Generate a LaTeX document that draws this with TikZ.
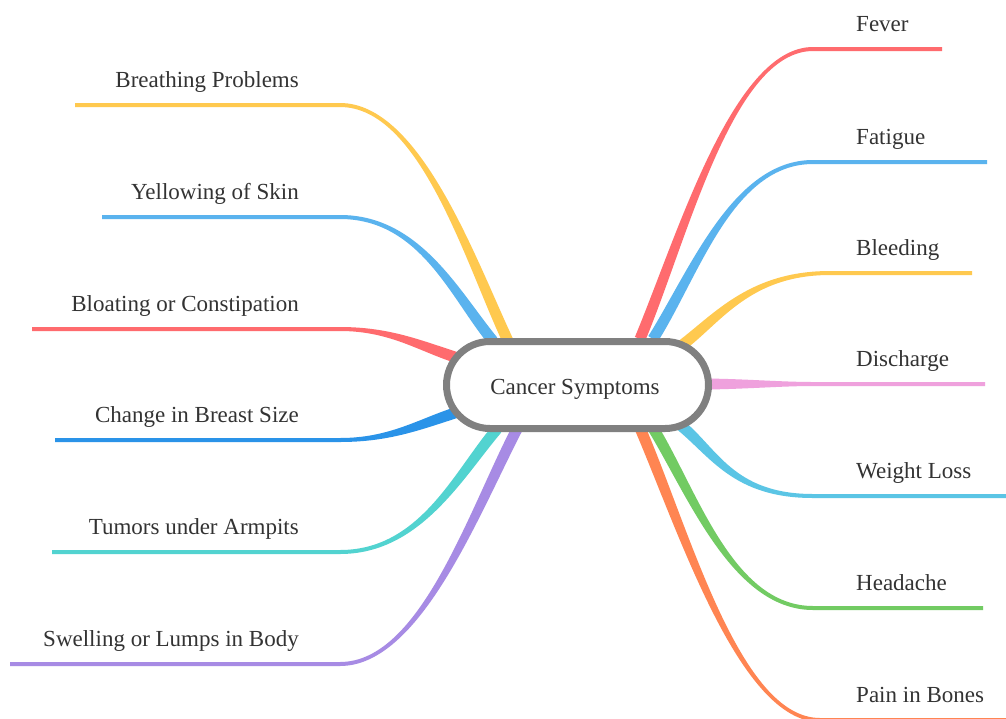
\documentclass[tikz,border=0pt]{standalone}
\usepackage{fontspec}
\setmainfont{Liberation Serif}
\newfontfamily\mmserif{Liberation Serif}
\usetikzlibrary{calc}

\definecolor{cRed}{HTML}{FF6B6E}
\definecolor{cBlue}{HTML}{5AB3EE}
\definecolor{cYellow}{HTML}{FFC94F}
\definecolor{cPink}{HTML}{EFA1DD}
\definecolor{cCyan}{HTML}{5BC5E5}
\definecolor{cGreen}{HTML}{72CB63}
\definecolor{cOrange}{HTML}{FF8552}
\definecolor{cDeepBlue}{HTML}{2A93E8}
\definecolor{cTeal}{HTML}{52D3D0}
\definecolor{cPurple}{HTML}{A78BE4}
\definecolor{cGrey}{HTML}{808080}
\definecolor{cText}{HTML}{333333}

% A tapered branch: wide at the root (#2), thin along the leaf line (#5 -- #6).
% #1 colour, #2 start, #3 #4 control points, #5 start of the leaf line, #6 its end
\newcommand\mmbranch[6]{%
  \coordinate (bp) at (#2);
  \coordinate (bc1) at (#3);
  \coordinate (bc2) at (#4);
  \coordinate (bq) at (#5);
  \coordinate (be) at (#6);
  \coordinate (pa) at ($(bp)!5.5pt!90:(bc1)$);
  \coordinate (pb) at ($(bp)!5.5pt!-90:(bc1)$);
  \coordinate (qa) at ($(bq)!2pt!-90:(bc2)$);
  \coordinate (qb) at ($(bq)!2pt!90:(bc2)$);
  \fill[#1] (pa) .. controls ($(bc1)+(pa)-(bp)$) and ($(bc2)+(qa)-(bq)$) .. (qa)
    -- ($(be)+(qa)-(bq)$) -- ($(be)+(qb)-(bq)$) -- (qb)
    .. controls ($(bc2)+(qb)-(bq)$) and ($(bc1)+(pb)-(bp)$) .. (pb) -- cycle;
}

\tikzset{
  lbl/.style={text=cText, inner sep=0pt, font=\mmserif\fontsize{23}{28}\selectfont},
  lleft/.style={lbl, anchor=base east},
  lright/.style={lbl, anchor=base west},
  rootbox/.style={draw=cGrey, fill=white, line width=7pt, rounded corners=43.5pt,
    minimum width=262pt, minimum height=87pt, inner sep=0pt}
}

\begin{document}
\begin{tikzpicture}[x=1pt, y=-1pt]
\useasboundingbox[fill=white] (0,0) rectangle (1006,718);
\clip (0,0) rectangle (1006,718);

% right-hand branches
\mmbranch{cRed}{640,339}{683,236}{733,49}{813,49}{942,49}
\mmbranch{cBlue}{653,339}{695,272}{733,162}{813,162}{987,162}
\mmbranch{cYellow}{681,346}{718,318}{750,273}{830,273}{972,273}
\mmbranch{cPink}{700,384}{740,384}{780,384}{813,384}{985,384}
\mmbranch{cCyan}{679,424}{714,452}{733,496}{813,496}{1010,496}
\mmbranch{cGreen}{653,428}{693,494}{733,608}{813,608}{983,608}
\mmbranch{cOrange}{640,428}{685,533}{740,720}{820,720}{1010,720}

% left-hand branches
\mmbranch{cYellow}{508,341}{470,260}{420,105}{340,105}{75,105}
\mmbranch{cBlue}{493,341}{455,295}{420,217}{340,217}{102,217}
\mmbranch{cRed}{458,358}{420,346}{390,329}{340,329}{32,329}
\mmbranch{cDeepBlue}{458,412}{420,424}{390,440}{340,440}{55,440}
\mmbranch{cTeal}{497,429}{458,475}{420,552}{340,552}{52,552}
\mmbranch{cPurple}{517,429}{473,514}{420,664}{340,664}{10,664}

% central topic
\node[rootbox] (root) at (577.5,385) {};
\node[lbl, anchor=base] (rootText) at (575,394) {Cancer Symptoms};

% leaf labels
\node[lright] (fever) at (856,31) {Fever};
\node[lright] (fatigue) at (856,144) {Fatigue};
\node[lright] (bleeding) at (856,255) {Bleeding};
\node[lright] (discharge) at (856,366) {Discharge};
\node[lright] (weight) at (856,478) {Weight Loss};
\node[lright] (headache) at (856,590) {Headache};
\node[lright] (bones) at (856,702) {Pain in Bones};

\node[lleft] (breathing) at (299,87) {Breathing Problems};
\node[lleft] (yellowing) at (299,199) {Yellowing of Skin};
\node[lleft] (bloating) at (299,311) {Bloating or Constipation};
\node[lleft] (breast) at (299,422) {Change in Breast Size};
\node[lleft] (tumors) at (299,534) {Tumors under Armpits};
\node[lleft] (swelling) at (299,646) {Swelling or Lumps in Body};
\end{tikzpicture}
\end{document}
